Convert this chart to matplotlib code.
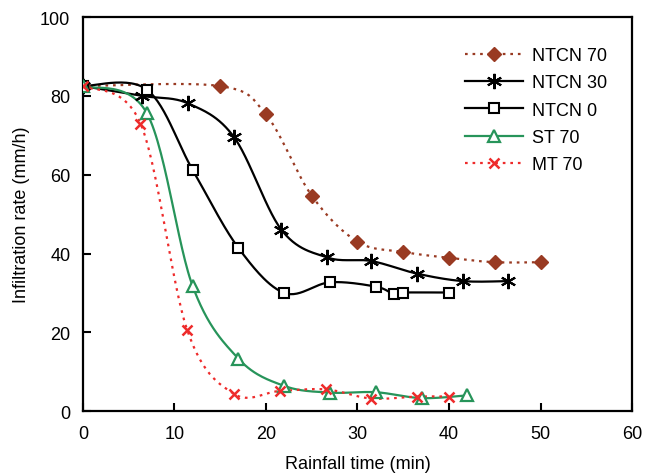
import numpy as np
import matplotlib
matplotlib.use("Agg")
import matplotlib.pyplot as plt

plt.rcParams['font.family'] = ['Liberation Sans', 'DejaVu Sans']

# data
ntcn70_x = [0, 15, 20, 25, 30, 35, 40, 45, 50]
ntcn70_y = [82.5, 82.5, 75.3, 54.7, 43.0, 40.4, 38.9, 37.8, 37.8]

ntcn30_x = [0, 6.5, 11.5, 16.5, 21.7, 26.7, 31.5, 36.5, 41.5, 46.4]
ntcn30_y = [82.5, 80.0, 78.1, 69.6, 46.0, 39.0, 38.1, 34.9, 33.0, 33.0]

ntcn0_x = [0, 7, 12, 17, 22, 27, 32, 34, 35, 40]
ntcn0_y = [82.5, 81.6, 61.2, 41.4, 30.0, 32.7, 31.6, 29.7, 30.1, 30.1]

st70_x = [0, 7, 12, 17, 22, 27, 32, 37, 42]
st70_y = [82.5, 75.6, 31.7, 13.3, 6.4, 4.7, 4.8, 3.3, 4.0]

mt70_x = [0, 6.3, 11.4, 16.5, 21.5, 26.6, 31.5, 36.5, 40]
mt70_y = [82.5, 73.0, 20.6, 4.4, 5.1, 5.5, 3.2, 3.7, 3.7]


def smooth(xs, ys, n=30):
    # Catmull-Rom style smoothing, like a spreadsheet "smoothed line"
    p = np.column_stack([xs, ys]).astype(float)
    p = np.vstack([p[0], p, p[-1]])
    out = []
    t = np.linspace(0, 1, n)[:, None]
    for i in range(1, len(p) - 2):
        p0, p1, p2, p3 = p[i - 1], p[i], p[i + 1], p[i + 2]
        c1 = p1 + (p2 - p0) / 6
        c2 = p2 - (p3 - p1) / 6
        seg = ((1 - t) ** 3) * p1 + 3 * ((1 - t) ** 2) * t * c1 + 3 * (1 - t) * t ** 2 * c2 + t ** 3 * p2
        out.append(seg)
    out = np.vstack(out)
    return out[:, 0], out[:, 1]


fig = plt.figure(figsize=(6.47, 4.77), dpi=100)
ax = fig.add_axes([0.128, 0.136, 0.849, 0.826])

brown = '#993a22'
green = '#27945a'
red = '#ee2b2b'
dots = (0, (1.2, 2.2))

series = [
    (ntcn70_x, ntcn70_y, 'NTCN 70', brown, dots, dict(marker='D', ms=7, mfc=brown, mec=brown)),
    (ntcn30_x, ntcn30_y, 'NTCN 30', 'black', '-', dict(marker=(6, 2, 0), ms=11, mec='black', mew=1.5)),
    (ntcn0_x, ntcn0_y, 'NTCN 0', 'black', '-', dict(marker='s', ms=7, mfc='white', mec='black', mew=1.5)),
    (st70_x, st70_y, 'ST 70', green, '-', dict(marker='^', ms=8, mfc='white', mec=green, mew=1.6)),
    (mt70_x, mt70_y, 'MT 70', red, dots, dict(marker='x', ms=7, mec=red, mew=1.8)),
]

handles = []
for xs, ys, lab, col, ls, mk in series:
    sx, sy = smooth(xs, ys)
    ax.plot(sx, sy, color=col, linestyle=ls, linewidth=1.6, zorder=2)
    ax.plot(xs, ys, linestyle='none', zorder=3, **mk)
    h, = ax.plot([], [], color=col, linestyle=ls, linewidth=1.6, **mk)
    h.set_label(lab)
    handles.append(h)

ax.set_xlim(0, 60)
ax.set_ylim(0, 100)
ax.set_xticks(range(0, 61, 10))
ax.set_yticks(range(0, 101, 20))
ax.tick_params(direction='in', length=6, width=1.5, labelsize=13)
ax.tick_params(axis='x', pad=10)
ax.tick_params(axis='y', pad=9)
for s in ax.spines.values():
    s.set_linewidth(1.6)

ax.set_xlabel('Rainfall time (min)', fontsize=13, labelpad=9)
ax.set_ylabel('Infiltration rate (mm/h)', fontsize=13, labelpad=7)

ax.legend(handles=handles, loc='upper right', bbox_to_anchor=(0.984, 0.965),
          frameon=False, fontsize=13, handlelength=3.2, labelspacing=0.57,
          handletextpad=0.5)

fig.savefig('out.png', dpi=100)
